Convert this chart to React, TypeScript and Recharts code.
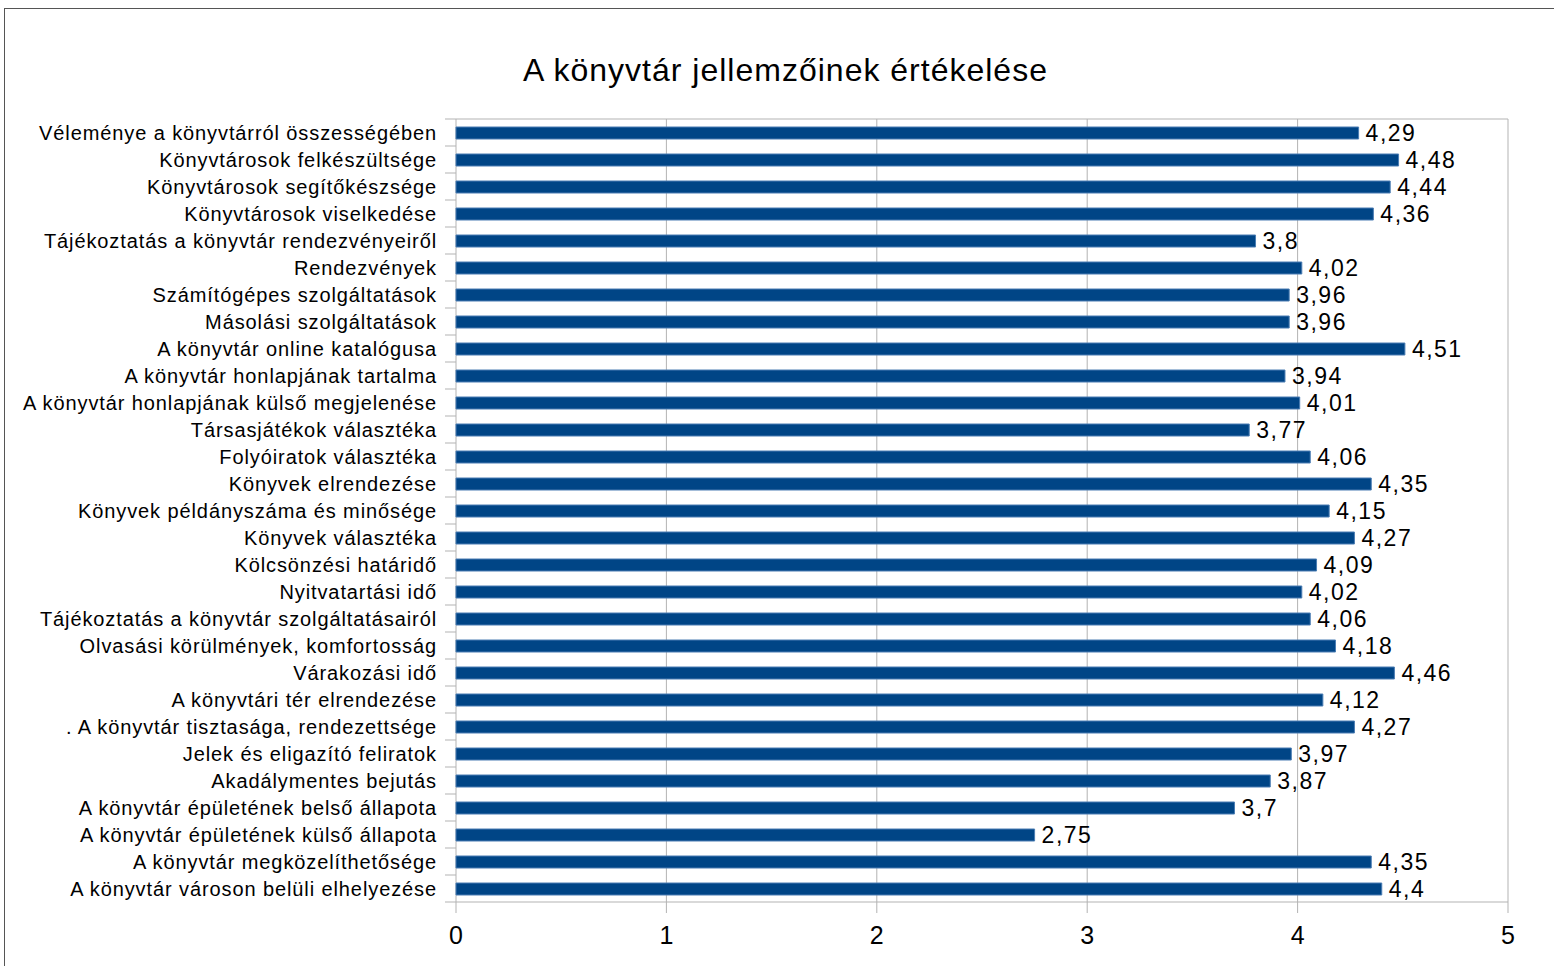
import React from 'react';
import { BarChart, Bar, XAxis, YAxis, CartesianGrid, LabelList } from 'recharts';

const categories = [
  'Véleménye a könyvtárról összességében',
  'Könyvtárosok felkészültsége',
  'Könyvtárosok segítőkészsége',
  'Könyvtárosok viselkedése',
  'Tájékoztatás a könyvtár rendezvényeiről',
  'Rendezvények',
  'Számítógépes szolgáltatások',
  'Másolási szolgáltatások',
  'A könyvtár online katalógusa',
  'A könyvtár honlapjának tartalma',
  'A könyvtár honlapjának külső megjelenése',
  'Társasjátékok választéka',
  'Folyóiratok választéka',
  'Könyvek elrendezése',
  'Könyvek példányszáma és minősége',
  'Könyvek választéka',
  'Kölcsönzési határidő',
  'Nyitvatartási idő',
  'Tájékoztatás a könyvtár szolgáltatásairól',
  'Olvasási körülmények, komfortosság',
  'Várakozási idő',
  'A könyvtári tér elrendezése',
  '. A könyvtár tisztasága, rendezettsége',
  'Jelek és eligazító feliratok',
  'Akadálymentes bejutás',
  'A könyvtár épületének belső állapota',
  'A könyvtár épületének külső állapota',
  'A könyvtár megközelíthetősége',
  'A könyvtár városon belüli elhelyezése',
];

const scores = [
  4.29, 4.48, 4.44, 4.36, 3.8, 4.02, 3.96, 3.96, 4.51, 3.94, 4.01, 3.77, 4.06, 4.35, 4.15,
  4.27, 4.09, 4.02, 4.06, 4.18, 4.46, 4.12, 4.27, 3.97, 3.87, 3.7, 2.75, 4.35, 4.4,
];

const xTicks = [0, 1, 2, 3, 4, 5];

const data = categories.map((name, i) => ({ name, value: scores[i] }));

const font = '"Liberation Sans", Arial, sans-serif';
const gridColor = '#b3b3b3';
const TICK_SIZE = 11;
const TICK_MARGIN = 8;

// category label + tick marks on the band boundaries (like the office chart)
const CategoryTick = (props: any) => {
  const { x, y, payload } = props;
  const half = payload && payload.offset ? payload.offset : 0;
  const x1 = x + TICK_MARGIN;
  const x2 = x + TICK_MARGIN + TICK_SIZE;
  return (
    <g>
      {payload.index === 0 && half > 0 && (
        <line x1={x1} x2={x2} y1={y - half} y2={y - half} stroke={gridColor} />
      )}
      {half > 0 && <line x1={x1} x2={x2} y1={y + half} y2={y + half} stroke={gridColor} />}
      <text
        x={x}
        y={y}
        dy="0.355em"
        textAnchor="end"
        fontSize={20}
        fill="#000"
        fontFamily={font}
        letterSpacing={0.9}
      >
        {payload.value}
      </text>
    </g>
  );
};

const App: React.FC = () => {
  return (
    <div style={{ position: 'absolute', left: 0, top: 0, width: 1554, height: 966, background: '#fff', fontFamily: font }}>
      <div
        style={{
          position: 'absolute',
          left: 4,
          top: 8,
          width: 1560,
          height: 970,
          borderLeft: '1px solid #555',
          borderTop: '1px solid #555',
        }}
      />
      <div
        style={{
          position: 'absolute',
          left: 0,
          width: 1571,
          top: 52,
          textAlign: 'center',
          fontSize: 32,
          letterSpacing: 1,
          color: '#000',
        }}
      >
        A könyvtár jellemzőinek értékelése
      </div>
      <div style={{ position: 'absolute', left: 0, top: 0 }}>
        <BarChart
          width={1554}
          height={966}
          data={data}
          layout="vertical"
          margin={{ top: 119, right: 46, bottom: 0, left: 0 }}
          barSize={12}
        >
          <CartesianGrid horizontal={false} stroke={gridColor} />
          <CartesianGrid
            vertical={false}
            stroke={gridColor}
            horizontalCoordinatesGenerator={({ offset }: any) => [offset.top]}
          />
          <XAxis
            type="number"
            domain={[0, 5]}
            ticks={xTicks}
            height={64}
            tickSize={11}
            tickMargin={13}
            axisLine={{ stroke: gridColor }}
            tickLine={{ stroke: gridColor }}
            tick={{ fontSize: 25, fill: '#000', fontFamily: font }}
          />
          <YAxis
            type="category"
            dataKey="name"
            width={456}
            interval={0}
            tickSize={TICK_SIZE}
            tickMargin={TICK_MARGIN}
            tickLine={false}
            axisLine={false}
            tick={<CategoryTick />}
          />
          <Bar
            dataKey="value"
            fill="#004586"
            stroke="#4a7db3"
            strokeWidth={1}
            isAnimationActive={false}
          >
            <LabelList
              dataKey="value"
              position="right"
              offset={7}
              formatter={(v: any) => String(v).replace('.', ',')}
              style={{ fontSize: 23, fill: '#000', fontFamily: font, letterSpacing: 1.5, strokeWidth: 0 }}
            />
          </Bar>
        </BarChart>
      </div>
    </div>
  );
};

export default App;
